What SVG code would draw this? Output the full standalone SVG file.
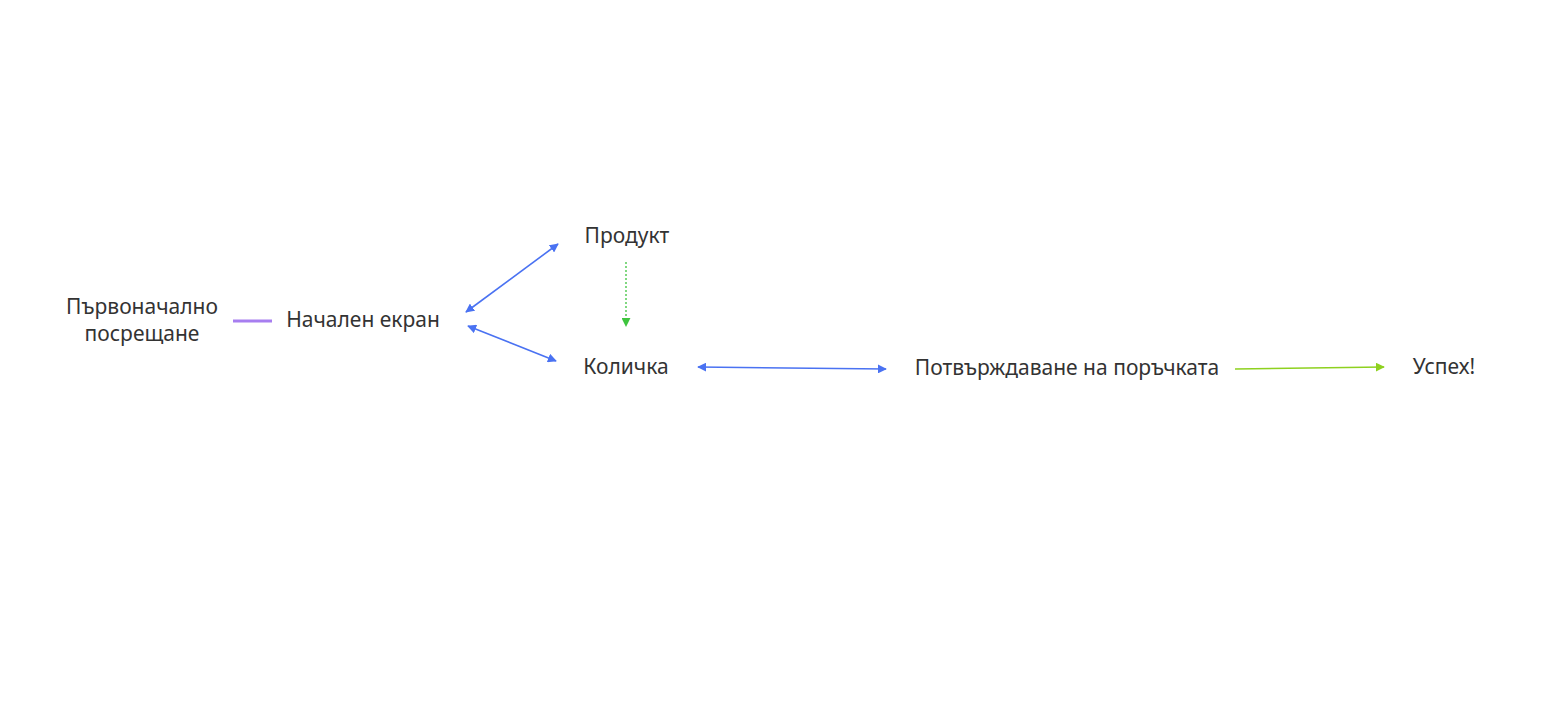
<svg xmlns="http://www.w3.org/2000/svg" width="1544" height="727" viewBox="0 0 1544 727">
<defs>
<style>
text{font-family:"Noto Sans","Open Sans","DejaVu Sans",sans-serif;font-size:21px;fill:#333333;text-anchor:middle}
.blue{stroke:#4a72f2;stroke-width:1.6;fill:none}
</style>
<marker id="ab" viewBox="0 0 10 10" refX="9" refY="5" markerWidth="9" markerHeight="9" markerUnits="userSpaceOnUse" orient="auto-start-reverse"><path d="M0,0 L10,5 L0,10 z" fill="#4a72f2"/></marker>
<marker id="ag" viewBox="0 0 10 10" refX="9" refY="5" markerWidth="9" markerHeight="9" markerUnits="userSpaceOnUse" orient="auto"><path d="M0,0 L10,5 L0,10 z" fill="#3ec43e"/></marker>
<marker id="al" viewBox="0 0 10 10" refX="9" refY="5" markerWidth="9" markerHeight="9" markerUnits="userSpaceOnUse" orient="auto"><path d="M0,0 L10,5 L0,10 z" fill="#8ed11f"/></marker>
</defs>
<rect width="1544" height="727" fill="#ffffff"/>
<g id="connectors">
<line x1="233" y1="321" x2="272" y2="321" stroke="#a77ef0" stroke-width="3"/>
<line class="blue" x1="466" y1="312" x2="558" y2="244" marker-start="url(#ab)" marker-end="url(#ab)"/>
<line class="blue" x1="468" y1="326" x2="556" y2="361" marker-start="url(#ab)" marker-end="url(#ab)"/>
<line x1="626" y1="262" x2="626" y2="326" stroke="#3ec43e" stroke-width="1.3" stroke-dasharray="2,2" marker-end="url(#ag)"/>
<line class="blue" x1="698" y1="367" x2="886" y2="369" marker-start="url(#ab)" marker-end="url(#ab)"/>
<line x1="1235" y1="369" x2="1384" y2="367" stroke="#8ed11f" stroke-width="1.6" marker-end="url(#al)"/>
</g>
<g id="node-welcome"><text x="142" y="314">Първоначално</text><text x="142" y="341">посрещане</text></g>
<g id="node-home"><text x="363" y="327">Начален екран</text></g>
<g id="node-product"><text x="627" y="243">Продукт</text></g>
<g id="node-cart"><text x="626" y="374">Количка</text></g>
<g id="node-confirm"><text x="1067" y="375">Потвърждаване на поръчката</text></g>
<g id="node-success"><text x="1444" y="374">Успех!</text></g>
</svg>
